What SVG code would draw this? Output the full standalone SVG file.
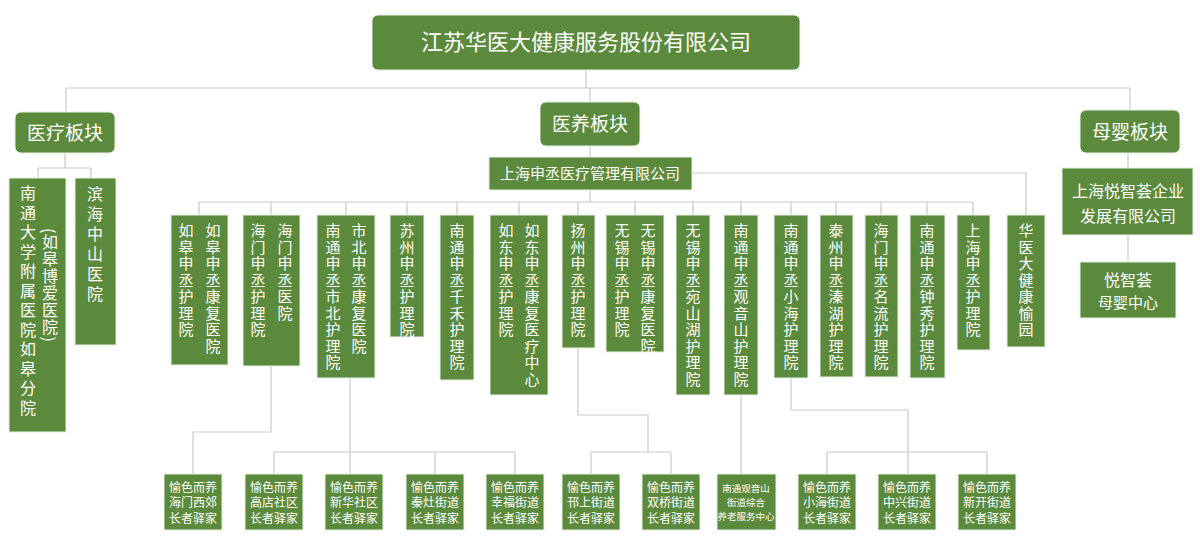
<svg xmlns="http://www.w3.org/2000/svg" width="1200" height="540" viewBox="0 0 1200 540">
<style>
.b{fill:#5b8a3c;stroke:#e8efe2;stroke-width:1}
.t{fill:#fff;font-family:"Noto Sans CJK SC","Noto Sans",sans-serif}
.h{font-size:22px;text-anchor:middle}
.m{font-size:15px;text-anchor:middle}
.v{font-size:15px;writing-mode:vertical-rl;letter-spacing:1.5px}
.s{font-size:12px;text-anchor:middle}
.l{fill:none;stroke:#c9c9c9;stroke-width:1.2}
</style>
<rect width="1200" height="540" fill="#fff"/>
<g id="connectors" class="l">
<path d="M586 70V88M66 88H1130M66 88V112M590 88V102M1130 88V110"/>
<path d="M65 153V168M38 168H91M38 168V178M91 168V178"/>
<path d="M590 146V157M590 190V202M199 202H973M692 173H1026V216"/>
<path d="M199 202V215M271 202V215M346 202V215M407 202V215M457 202V215M519 202V215M578 202V215M635 202V215M693 202V215M741 202V215M791 202V215M836 202V215M881 202V215M927 202V215M973 202V215"/>
<path d="M271 366V432H193V474"/>
<path d="M350 378V474M274 452H515M274 452V474M435 452V474M515 452V474"/>
<path d="M578 348V415H648V452M591 452H671M591 452V474M671 452V474"/>
<path d="M741 395V474"/>
<path d="M791 378V410H908V474M827 452H987M827 452V474M987 452V474"/>
<path d="M1128 153V168M1128 235V262"/>
</g>
<g id="root"><rect class="b" x="372" y="15" width="428" height="55" rx="6"/><text class="t h" x="586" y="50">江苏华医大健康服务股份有限公司</text></g>
<g id="yiliao"><rect class="b" x="15" y="112" width="100" height="41" rx="6"/><text class="t h" x="65" y="140" style="font-size:19px">医疗板块</text></g>
<g id="yiyang"><rect class="b" x="540" y="102" width="100" height="44" rx="6"/><text class="t h" x="590" y="131" style="font-size:19px">医养板块</text></g>
<g id="muying"><rect class="b" x="1080" y="110" width="100" height="43" rx="6"/><text class="t h" x="1130" y="139" style="font-size:19px">母婴板块</text></g>
<g id="nantong-rugao"><rect class="b" x="9" y="178" width="57" height="254"/><text class="t v" x="28" y="185" style="font-size:16px;letter-spacing:3.5px">南通大学附属医院如皋分院</text><text class="t v" x="50" y="228" style="font-size:16px;letter-spacing:1px">(如皋博爱医院)</text></g>
<g id="binhai"><rect class="b" x="75" y="178" width="41" height="167"/><text class="t v" x="95" y="186" style="font-size:16px;letter-spacing:4px">滨海中山医院</text></g>
<g id="shenche"><rect class="b" x="489" y="157" width="203" height="33"/><text class="t m" x="590" y="179">上海申丞医疗管理有限公司</text></g>
<g id="n1"><rect class="b" x="171" y="215" width="57" height="150"/><text class="t v" x="213" y="223">如皋申丞康复医院</text><text class="t v" x="186" y="223">如皋申丞护理院</text></g>
<g id="n2"><rect class="b" x="243" y="215" width="57" height="151"/><text class="t v" x="285" y="223">海门申丞医院</text><text class="t v" x="258" y="223">海门申丞护理院</text></g>
<g id="n3"><rect class="b" x="317" y="215" width="58" height="163"/><text class="t v" x="359" y="223">市北申丞康复医院</text><text class="t v" x="333" y="223">南通申丞市北护理院</text></g>
<g id="n4"><rect class="b" x="390" y="215" width="34" height="122"/><text class="t v" x="407" y="223">苏州申丞护理院</text></g>
<g id="n5"><rect class="b" x="440" y="215" width="34" height="165"/><text class="t v" x="457" y="223">南通申丞千禾护理院</text></g>
<g id="n6"><rect class="b" x="490" y="215" width="58" height="180"/><text class="t v" x="532" y="223">如东申丞康复医疗中心</text><text class="t v" x="506" y="223">如东申丞护理院</text></g>
<g id="n7"><rect class="b" x="562" y="215" width="33" height="133"/><text class="t v" x="578" y="223">扬州申丞护理院</text></g>
<g id="n8"><rect class="b" x="606" y="215" width="58" height="137"/><text class="t v" x="648" y="223">无锡申丞康复医院</text><text class="t v" x="622" y="223">无锡申丞护理院</text></g>
<g id="n9"><rect class="b" x="676" y="215" width="34" height="180"/><text class="t v" x="693" y="223">无锡申丞宛山湖护理院</text></g>
<g id="n10"><rect class="b" x="724" y="215" width="34" height="180"/><text class="t v" x="741" y="223">南通申丞观音山护理院</text></g>
<g id="n11"><rect class="b" x="774" y="215" width="34" height="163"/><text class="t v" x="791" y="223">南通申丞小海护理院</text></g>
<g id="n12"><rect class="b" x="820" y="215" width="33" height="162"/><text class="t v" x="836" y="223">泰州申丞溱湖护理院</text></g>
<g id="n13"><rect class="b" x="865" y="215" width="33" height="162"/><text class="t v" x="881" y="223">海门申丞名流护理院</text></g>
<g id="n14"><rect class="b" x="910" y="215" width="35" height="163"/><text class="t v" x="927" y="223">南通申丞钟秀护理院</text></g>
<g id="n15"><rect class="b" x="957" y="215" width="33" height="135"/><text class="t v" x="973" y="223">上海申丞护理院</text></g>
<g id="n16"><rect class="b" x="1007" y="215" width="38" height="132"/><text class="t v" x="1026" y="223">华医大健康愉园</text></g>
<g id="yuezhihui-co"><rect class="b" x="1062" y="168" width="131" height="67"/><text class="t m" x="1128" y="197" style="font-size:16px">上海悦智荟企业</text><text class="t m" x="1128" y="222" style="font-size:16px">发展有限公司</text></g>
<g id="yuezhihui"><rect class="b" x="1080" y="262" width="96" height="56"/><text class="t m" x="1128" y="286" style="font-size:16px">悦智荟</text><text class="t m" x="1128" y="308">母婴中心</text></g>
<g id="b1"><rect class="b" x="164" y="474" width="58" height="56"/><text class="t s" x="193" y="492">愉色而养</text><text class="t s" x="193" y="507">海门西郊</text><text class="t s" x="193" y="523">长者驿家</text></g>
<g id="b2"><rect class="b" x="245" y="474" width="58" height="56"/><text class="t s" x="274" y="492">愉色而养</text><text class="t s" x="274" y="507">高店社区</text><text class="t s" x="274" y="523">长者驿家</text></g>
<g id="b3"><rect class="b" x="325" y="474" width="58" height="56"/><text class="t s" x="354" y="492">愉色而养</text><text class="t s" x="354" y="507">新华社区</text><text class="t s" x="354" y="523">长者驿家</text></g>
<g id="b4"><rect class="b" x="406" y="474" width="58" height="56"/><text class="t s" x="435" y="492">愉色而养</text><text class="t s" x="435" y="507">秦灶街道</text><text class="t s" x="435" y="523">长者驿家</text></g>
<g id="b5"><rect class="b" x="486" y="474" width="58" height="56"/><text class="t s" x="515" y="492">愉色而养</text><text class="t s" x="515" y="507">幸福街道</text><text class="t s" x="515" y="523">长者驿家</text></g>
<g id="b6"><rect class="b" x="562" y="474" width="58" height="56"/><text class="t s" x="591" y="492">愉色而养</text><text class="t s" x="591" y="507">邗上街道</text><text class="t s" x="591" y="523">长者驿家</text></g>
<g id="b7"><rect class="b" x="642" y="474" width="58" height="56"/><text class="t s" x="671" y="492">愉色而养</text><text class="t s" x="671" y="507">双桥街道</text><text class="t s" x="671" y="523">长者驿家</text></g>
<g id="b8"><rect class="b" x="717" y="474" width="59" height="56"/><text class="t s" x="746" y="492" style="font-size:9.5px">南通观音山</text><text class="t s" x="746" y="506" style="font-size:9.5px">街道综合</text><text class="t s" x="746" y="520" style="font-size:9.5px">养老服务中心</text></g>
<g id="b9"><rect class="b" x="798" y="474" width="58" height="56"/><text class="t s" x="827" y="492">愉色而养</text><text class="t s" x="827" y="507">小海街道</text><text class="t s" x="827" y="523">长者驿家</text></g>
<g id="b10"><rect class="b" x="878" y="474" width="58" height="56"/><text class="t s" x="907" y="492">愉色而养</text><text class="t s" x="907" y="507">中兴街道</text><text class="t s" x="907" y="523">长者驿家</text></g>
<g id="b11"><rect class="b" x="958" y="474" width="58" height="56"/><text class="t s" x="987" y="492">愉色而养</text><text class="t s" x="987" y="507">新开街道</text><text class="t s" x="987" y="523">长者驿家</text></g>
</svg>
